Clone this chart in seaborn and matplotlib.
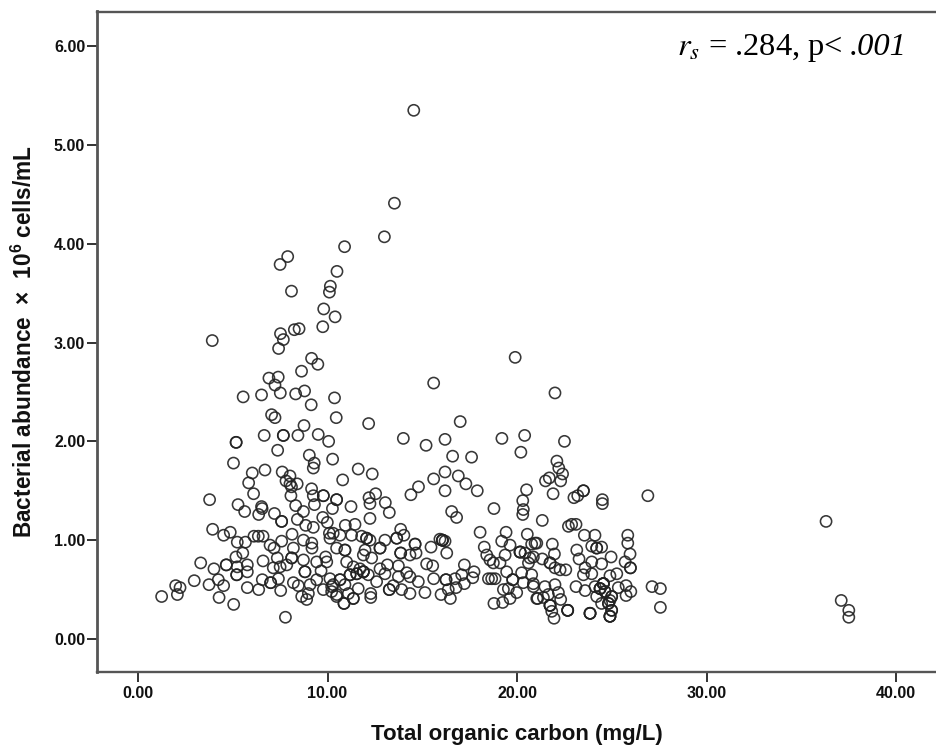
import matplotlib
matplotlib.use("Agg")
import matplotlib.pyplot as plt
import seaborn as sns
import pandas as pd

# (total organic carbon mg/L, bacterial abundance), by region
low_left = [(1.25,.43),(2.08,.45),(1.99,.54),(2.22,.52),(2.97,.59),(3.31,.77),(4.01,.71),(3.75,.55),(4.24,.60),(4.52,.54),
    (4.28,.42),(5.05,.35),(3.94,1.11),(4.52,1.05),(4.87,1.08),(5.24,.98),(5.67,.98),(6.12,1.04),(6.35,1.04),(6.6,1.04),
    (5.77,.52),(6.37,.50),(6.56,.60),(7.0,.57),(7.0,.57),(7.53,.49),(7.78,.22),(6.6,.79),(4.66,.75),(4.66,.75),
    (5.21,.65),(5.21,.65),(5.77,.68),(5.77,.75),(5.53,.87),(5.17,.83),(5.24,.73),(7.2,1.27),(7.58,1.19),(7.58,1.19),
    (6.55,1.32),(6.37,1.26),(5.28,1.36),(5.63,1.29),(3.78,1.41),(8.32,1.35),(8.41,1.21),(8.73,1.29),(8.85,1.15),(9.25,1.13),
    (9.75,1.23),(9.99,1.18),(9.31,1.36),(8.13,1.06),(7.58,.99),(6.97,.95),(7.18,.92),(7.35,.82),(8.2,.92),(8.11,.82),
    (8.11,.82),(8.73,1.0),(9.17,.97),(9.18,.92),(8.73,.80),(9.43,.78),(9.96,.78),(9.9,.83),(7.14,.72),(7.5,.73),
    (7.85,.75),(8.81,.68),(8.81,.68),(9.66,.69),(10.1,1.07),(10.13,1.02),(8.2,.57),(8.46,.54),(9.08,.55),(9.43,.60),
    (10.13,.61),(7.41,.61),(8.64,.43),(8.9,.40),(8.99,.46),(9.78,.50),(10.49,.45),(10.22,.53)]

low_middle = [(10.26,1.32),(12.24,1.37),(12.24,1.22),(13.26,1.28),(13.05,1.38),(16.55,1.29),(16.81,1.23),
    (18.78,1.32),(20.33,1.31),(20.3,1.26),(18.05,1.08),(10.94,1.15),(11.45,1.16),(10.3,1.07),(10.66,1.05),(11.27,1.05),
    (12.06,1.02),(12.06,1.02),(11.8,1.04),(12.24,1.0),(13.86,1.11),(14.03,1.05),(13.65,1.02),(13.65,1.02),(13.03,1.0),
    (12.77,.92),(12.77,.92),(14.62,.96),(14.62,.96),(13.86,.87),(13.86,.87),(14.35,.85),(14.67,.87),(15.46,.93),
    (16.06,1.0),(16.06,1.0),(16.06,1.0),(15.93,1.01),(16.2,.99),(16.29,.87),(15.23,.76),(15.55,.74),(15.6,.61),
    (17.22,.75),(16.25,.60),(16.25,.60),(16.73,.61),(17.08,.65),(17.73,.68),(17.66,.62),(17.22,.56),(16.78,.52),
    (16.37,.50),(15.99,.45),(16.48,.41),(15.14,.47),(14.35,.46),(13.91,.50),(13.47,.54),(13.26,.50),(13.26,.50),
    (14.79,.58),(14.35,.63),(14.18,.67),(13.74,.74),(13.74,.63),(13.16,.75),(12.77,.71),(13.03,.66),(12.59,.58),
    (12.28,.46),(12.28,.42),(11.89,.85),(12.33,.82),(11.98,.90),(11.01,.78),(10.92,.90),(10.92,.90),(10.48,.92),
    (11.36,.73),(11.71,.71),(11.89,.68),(11.89,.68),(11.89,.68),(12.15,.65),(11.19,.65),(11.19,.65),(11.54,.66),
    (11.54,.66),(10.66,.60),(10.66,.60),(10.92,.55),(10.3,.55),(11.62,.51),(11.36,.41),(11.36,.41),(10.87,.36),
    (10.87,.36),(10.48,.43),(11.1,.46),(10.22,.48)]

low_right = [(19.19,.99),(19.42,1.08),(19.63,.95),(20.54,1.06),(20.77,.96),(21.04,.97),(19.37,.85),(20.16,.88),(20.16,.88),
    (20.16,.88),(20.42,.87),(20.68,.82),(20.86,.83),(18.27,.93),(18.4,.85),(18.57,.80),(18.75,.77),(19.1,.77),(18.49,.61),
    (18.66,.61),(18.84,.61),(19.45,.68),(19.77,.60),(19.77,.60),(20.24,.67),(20.77,.65),(20.6,.77),(20.33,.57),(20.86,.53),
    (19.28,.50),(19.98,.47),(19.54,.51),(19.63,.41),(19.24,.37),(18.78,.36),(21.04,.41),(21.33,1.2),(22.71,1.14),(22.88,1.16),
    (23.11,1.16),(23.55,1.05),(24.11,1.05),(25.84,1.05),(25.84,.97),(21.86,.96),(21.97,.86),(20.95,.97),(23.15,.90),(23.27,.81),
    (24.46,.93),(24.2,.92),(24.2,.92),(23.94,.94),(25.96,.86),(25.7,.78),(24.96,.83),(24.46,.76),(23.94,.78),(25.98,.72),
    (25.98,.72),(21.33,.81),(21.74,.77),(21.74,.77),(22.0,.72),(22.27,.70),(22.57,.70),(23.59,.72),(23.5,.65),(23.94,.66),
    (25.26,.66),(24.9,.64),(24.55,.56),(24.55,.56),(24.55,.56),(24.55,.56),(24.38,.51),(24.38,.51),(24.38,.51),(23.11,.53),
    (23.59,.49),(24.11,.53),(25.34,.52),(25.75,.54),(26.0,.48),(25.75,.44),(27.12,.53),(27.56,.51),(27.56,.32),(23.85,.26),
    (23.85,.26),(23.85,.26),(22.67,.29),(22.67,.29),(22.67,.29),(21.95,.21),(21.83,.28),(21.74,.34),(21.74,.34),(21.74,.34),
    (22.18,.47),(22.3,.40),(22.0,.55),(21.47,.53),(21.09,.41),(21.39,.42),(21.65,.45),(20.86,.56),(24.9,.23),(24.9,.23),
    (24.9,.23),(24.99,.29),(24.99,.29),(24.82,.36),(24.82,.36),(24.99,.43),(24.99,.43),(24.46,.36),(24.2,.43),(24.64,.48),
    (24.64,.48),(24.9,.39)]

mid_left = [(3.92,3.02),(7.52,3.09),(7.67,3.03),(7.42,2.94),(8.25,3.13),(9.16,2.84),(9.49,2.78),(8.63,2.71),(6.91,2.64),
    (7.4,2.65),(7.23,2.57),(5.55,2.45),(6.52,2.47),(7.51,2.49),(8.32,2.48),(8.79,2.51),(9.14,2.37),(10.37,2.44),(7.05,2.27),
    (7.23,2.24),(10.46,2.24),(12.17,2.18),(8.76,2.16),(6.66,2.06),(7.67,2.06),(7.67,2.06),(8.44,2.06),(9.51,2.07),(10.06,2.0),
    (5.18,1.99),(5.18,1.99),(7.37,1.91),(5.04,1.78),(9.04,1.86),(9.3,1.78),(9.25,1.73),(10.27,1.82),(11.62,1.72),(12.36,1.67),
    (10.8,1.61),(6.7,1.71),(6.03,1.68),(5.84,1.58),(6.1,1.47),(7.61,1.69),(8.02,1.65),(7.81,1.6),(8.02,1.57),(8.4,1.57),
    (8.1,1.54),(9.16,1.52),(8.07,1.45),(9.25,1.45),(9.78,1.45),(9.78,1.45),(10.48,1.41),(10.48,1.41),(12.19,1.43),(12.54,1.47),
    (6.52,1.34),(11.24,1.34)]

upper = [(14.55,5.35),(13.53,4.41),(13.0,4.07),(10.9,3.97),(7.9,3.87),(7.5,3.79),(10.5,3.72),(10.15,3.57),(10.1,3.51),
    (8.1,3.52),(9.8,3.34),(9.75,3.16),(8.5,3.14),(10.4,3.26)]

mid_right = [(15.6,2.59),(19.9,2.85),(22.0,2.49),(14.0,2.03),(15.2,1.96),(16.2,2.02),(17.0,2.2),(16.6,1.85),(17.6,1.84),
    (19.2,2.03),(20.4,2.06),(20.2,1.89),(22.5,2.0),(22.1,1.8),(22.2,1.73),(22.4,1.67),(22.3,1.6),(21.5,1.6),(21.7,1.63),
    (21.9,1.47),(20.5,1.51),(20.3,1.4),(15.6,1.62),(16.2,1.69),(16.2,1.5),(16.9,1.65),
    (17.3,1.57),(17.9,1.5),(14.4,1.46),(14.8,1.54),
    (23.0,1.43),(23.2,1.45),(23.5,1.5),(23.5,1.5),(24.5,1.41),(24.5,1.37),(26.9,1.45)]

far_right = [(36.3,1.19),(37.1,.39),(37.5,.29),(37.5,.22)]

x_ticks = [0, 10, 20, 30, 40]
y_ticks = [0, 1, 2, 3, 4, 5, 6]

df = pd.DataFrame(low_left + low_middle + low_right + mid_left + upper + mid_right + far_right,
                  columns=["toc", "bacteria"])

sns.set_theme(style="white")
plt.rcParams["font.family"] = "Liberation Sans"
plt.rcParams["mathtext.fontset"] = "custom"
plt.rcParams["mathtext.rm"] = "Liberation Sans:bold"
plt.rcParams["mathtext.bf"] = "Liberation Sans:bold"

fig = plt.figure(figsize=(9.36, 7.49), dpi=100)
ax = fig.add_axes([97 / 936, 1 - 672 / 749, 1 - 97 / 936, (672 - 11.5) / 749])

sns.scatterplot(data=df, x="toc", y="bacteria", ax=ax, s=65, facecolor="none",
                edgecolor="#222222", linewidth=1.15, alpha=0.9, clip_on=False)

ax.set_xlim(-2.16, 42.1)
ax.set_ylim(-0.334, 6.35)
ax.set_xticks(x_ticks, [f"{v:.2f}" for v in x_ticks], fontsize=11.5, fontweight="bold", color="#111111")
ax.set_yticks(y_ticks, [f"{v:.2f}" for v in y_ticks], fontsize=11.5, fontweight="bold", color="#111111")
ax.tick_params(axis="both", direction="out", length=7, width=1.4, color="#333333", bottom=True, left=True)
ax.tick_params(axis="x", pad=3)
ax.tick_params(axis="y", pad=1.5)

for name in ["left", "top", "bottom"]:
    ax.spines[name].set_color("#555555")
    ax.spines[name].set_linewidth(1.7)
ax.spines["left"].set_linewidth(2.0)
ax.spines["right"].set_visible(False)

ax.set_xlabel("Total organic carbon (mg/L)", fontsize=16, fontweight="bold", color="#111111", va="center")
ax.set_ylabel(r"Bacterial abundance  ×  10$^{\mathbf{6}}$ cells/mL", fontsize=16.3, fontweight="bold",
              color="#111111", va="center")
ax.xaxis.set_label_coords(0.5, -0.095)
ax.yaxis.set_label_coords(-0.087, 0.5)

# the p value is italic, the rest upright, so two texts chained together
p_text = ax.text(0.965, 0.934, ".001", transform=ax.transAxes, ha="right", va="baseline",
                 fontsize=23.4, family="Liberation Serif", style="italic", color="black")
ax.annotate(r"$r_s$ = .284, p<", xy=(0, 0), xycoords=p_text, xytext=(-5.5, 5.1), textcoords="offset points",
            ha="right", va="baseline", fontsize=23.4, family="Liberation Serif", color="black",
            math_fontfamily="stix")

fig.savefig("out.png", dpi=100)
